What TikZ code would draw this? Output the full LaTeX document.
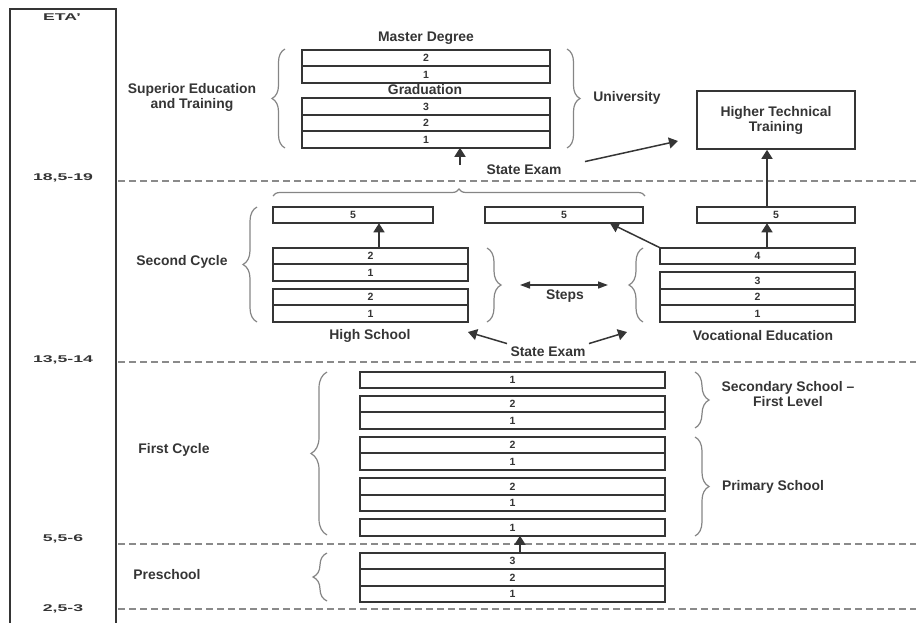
\documentclass[tikz,border=0pt]{standalone}
\usepackage{fontspec}
\setmainfont{Liberation Sans}
\usepackage{graphicx}
\usetikzlibrary{positioning,arrows.meta,decorations.pathreplacing}

\definecolor{ink}{HTML}{353535}
\definecolor{bracegray}{HTML}{858585}
\definecolor{dashgray}{HTML}{8A8A8A}

\newcommand{\lblfont}{\bfseries\fontsize{13.9}{15}\selectfont}
\newcommand{\yrfont}{\bfseries\fontsize{10.5}{12}\selectfont}
\newcommand{\agetxt}[1]{\scalebox{1.8}[1]{\bfseries\fontsize{9.8}{11}\selectfont #1}}

\tikzset{
  yr/.style={draw=ink, line width=1.6pt, minimum width=#1, minimum height=16.5pt,
    inner sep=0pt, outer sep=0pt, font=\yrfont, text=ink},
  txt/.style={font=\lblfont, text=ink, align=center},
  arr/.style={draw=ink, line width=1.5pt, -{Triangle[length=9pt,width=11pt]}},
  arrs/.style={draw=ink, line width=1.5pt, {Triangle[length=10pt,width=7pt]}-{Triangle[length=10pt,width=7pt]}},
  brc/.style={draw=bracegray, line width=1.2pt, decorate, decoration={brace, amplitude=#1}},
  sep/.style={draw=dashgray, line width=1.5pt, dash pattern=on 7pt off 4pt},
}

\begin{document}
\begin{tikzpicture}[x=1pt,y=-1pt]
\useasboundingbox (0,0) rectangle (916,622);

%age column
\draw[ink, line width=2.4pt] (10,630) -- (10,9) -- (116,9) -- (116,630);
\node[text=ink] (eta) at (62,17) {\agetxt{ETA'}};
\node[text=ink] (a19) at (63,178) {\agetxt{18,5-19}};
\node[text=ink] (a14) at (63,360) {\agetxt{13,5-14}};
\node[text=ink] (a6) at (63,539) {\agetxt{5,5-6}};
\node[text=ink] (a3) at (63,609) {\agetxt{2,5-3}};

\draw[sep] (118,181) -- (916,181);
\draw[sep] (118,362) -- (916,362);
\draw[sep] (118,544) -- (916,544);
\draw[sep] (118,609) -- (916,609);

%university
\node[txt] (mdeg) at (426,38) {Master Degree};
\node[yr=248] (md2) at (426,58) {2};
\node[yr=248, below=0pt of md2] (md1) {1};
\node[txt] (grad) at (425,90) {Graduation};
\node[yr=248] (gr3) at (426,106.5) {3};
\node[yr=248, below=0pt of gr3] (gr2) {2};
\node[yr=248, below=0pt of gr2] (gr1) {1};
\draw[brc=13pt] (285,148) -- (285,49);
\draw[brc=13pt] (567,49) -- (567,148);
\node[txt] (sup) at (192,97) {Superior Education\\and Training};
\node[txt] (uni) at (627,98) {University};

\node[draw=ink, line width=1.6pt, minimum width=158, minimum height=58, txt] (htt) at (776,120) {Higher Technical\\Training};

\node[txt] (se1) at (524,170) {State Exam};
\coordinate (ux) at (460,165);
\draw[arr] (ux) -- (gr1.south -| ux);
\coordinate (hx) at (678,141);
\draw[arr] ([xshift=20pt]se1.north east) -- (hx);

%second cycle
\draw[brc=7pt] (273,196) -- (645,196);
\node[yr=160] (hs5) at (353,215) {5};
\node[yr=158] (mid5) at (564,215) {5};
\node[yr=158] (ve5) at (776,215) {5};

\node[yr=195] (hsa2) at (370.5,256) {2};
\node[yr=195, below=0pt of hsa2] (hsa1) {1};
\node[yr=195] (hsb2) at (370.5,297) {2};
\node[yr=195, below=0pt of hsb2] (hsb1) {1};

\node[yr=195] (ve4) at (757.5,256) {4};
\node[yr=195] (ve3) at (757.5,280.5) {3};
\node[yr=195, below=0pt of ve3] (ve2) {2};
\node[yr=195, below=0pt of ve2] (ve1) {1};

\draw[brc=14pt] (257,322) -- (257,207);
\draw[brc=14pt] (487,248) -- (487,322);
\draw[brc=14pt] (643,322) -- (643,248);
\node[txt] (sc) at (182,262) {Second Cycle};

\coordinate (hx2) at (379,0);
\draw[arr] (hsa2.north -| hx2) -- (hs5.south -| hx2);
\coordinate (vx) at (767,0);
\draw[arr] (ve4.north -| vx) -- (ve5.south -| vx);
\draw[arr] (ve5.north -| vx) -- (htt.south -| vx);
\coordinate (mx) at (610,0);
\draw[arr] (ve4.north west) -- (mid5.south -| mx);

\coordinate (sl) at (520,285);
\coordinate (sr) at (608,285);
\draw[arrs] (sl) -- (sr);
\node[txt] (steps) at (565,296) {Steps};

\node[txt] (hs) at (370,336) {High School};
\node[txt] (ve) at (763,336) {Vocational Education};
\node[txt] (se2) at (548,352) {State Exam};
\coordinate (hsx) at (468,332);
\coordinate (vex) at (627,332);
\draw[arr] (se2.north west) -- (hsx);
\draw[arr] (se2.north east) -- (vex);

%first cycle
\node[yr=305] (ss1) at (512.5,380) {1};
\node[yr=305] (ssa2) at (512.5,404) {2};
\node[yr=305, below=0pt of ssa2] (ssa1) {1};
\node[yr=305] (pa2) at (512.5,445) {2};
\node[yr=305, below=0pt of pa2] (pa1) {1};
\node[yr=305] (pb2) at (512.5,486.5) {2};
\node[yr=305, below=0pt of pb2] (pb1) {1};
\node[yr=305] (pc1) at (512.5,527.5) {1};

\draw[brc=16pt] (327,535) -- (327,372);
\draw[brc=14pt] (695,372) -- (695,428);
\draw[brc=14pt] (695,437) -- (695,536);
\node[txt] (fc) at (174,450) {First Cycle};
\node[txt] (ss) at (788,394) {Secondary School --\\First Level};
\node[txt] (ps) at (773,487) {Primary School};

%preschool
\node[yr=305] (pre3) at (512.5,561) {3};
\node[yr=305, below=0pt of pre3] (pre2) {2};
\node[yr=305, below=0pt of pre2] (pre1) {1};
\draw[brc=14pt] (327,601) -- (327,553);
\node[txt] (pre) at (167,575) {Preschool};

\coordinate (px) at (520,0);
\draw[arr] (pre3.north -| px) -- (pc1.south -| px);
\end{tikzpicture}
\end{document}
